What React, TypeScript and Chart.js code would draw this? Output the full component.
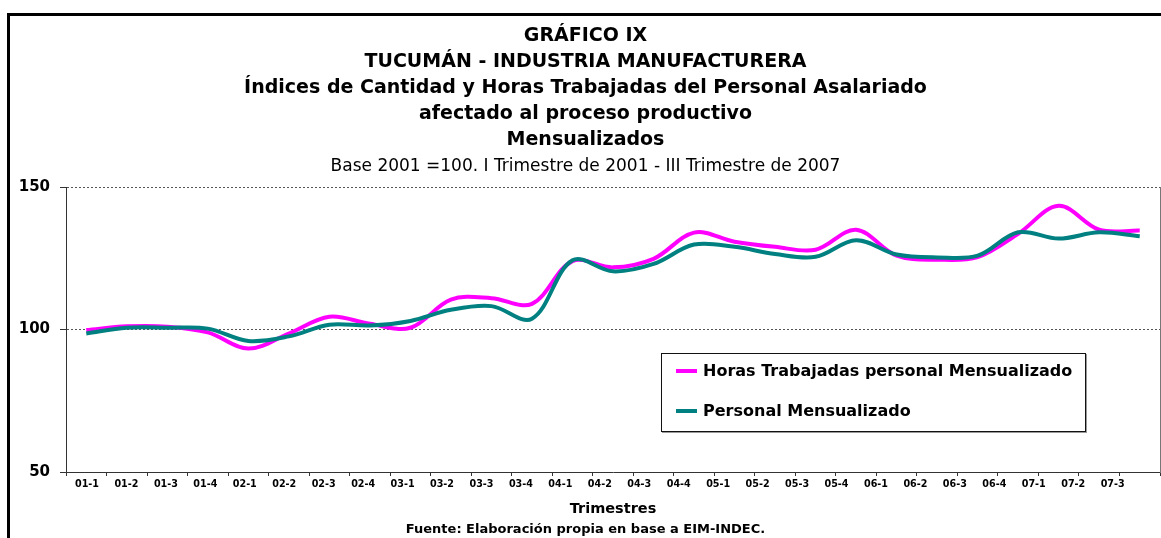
import React, { useEffect, useRef } from "react";
import { Chart, registerables } from "chart.js";

Chart.register(...registerables);

const FONT = "'DejaVu Sans', 'Noto Sans', sans-serif";

const quarterLabels = [
  "01-1", "01-2", "01-3", "01-4",
  "02-1", "02-2", "02-3", "02-4",
  "03-1", "03-2", "03-3", "03-4",
  "04-1", "04-2", "04-3", "04-4",
  "05-1", "05-2", "05-3", "05-4",
  "06-1", "06-2", "06-3", "06-4",
  "07-1", "07-2", "07-3",
];

const horasTrabajadas = [
  99.8, 101.1, 101.0, 99.0,
  93.3, 98.6, 104.5, 102.0,
  100.6, 110.5, 111.0, 109.0,
  124.0, 121.8, 124.8, 134.0,
  130.8, 129.0, 128.0, 135.0,
  125.9, 124.5, 125.4, 133.6,
  143.4, 135.0, 134.7,
];

const personalMensualizado = [
  98.6, 100.6, 100.6, 100.3,
  96.0, 97.6, 101.7, 101.4,
  103.0, 106.9, 108.2, 103.8,
  124.3, 120.4, 123.0, 129.8,
  129.0, 126.5, 125.5, 131.3,
  126.3, 125.3, 125.9, 134.1,
  131.9, 134.1, 132.7,
];

const seriesNames = ["Horas Trabajadas personal Mensualizado", "Personal Mensualizado"];
const seriesColors = ["#FF00FF", "#008080"];

const yMin = 50;
const yMax = 150;
const yStep = 50;

const titleLines = [
  "GRÁFICO IX",
  "TUCUMÁN - INDUSTRIA MANUFACTURERA",
  "Índices de Cantidad y Horas Trabajadas del Personal Asalariado",
  "afectado al proceso productivo",
  "Mensualizados",
];
const subtitleText = "Base 2001 =100. I Trimestre de 2001 - III Trimestre de 2007";
const xAxisTitle = "Trimestres";
const sourceNote = "Fuente: Elaboración propia en base a EIM-INDEC.";

export default function App() {
  const canvasRef = useRef<HTMLCanvasElement>(null);

  useEffect(() => {
    const canvas = canvasRef.current;
    if (!canvas) return;
    const chart = new Chart(canvas, {
      type: "line",
      data: {
        labels: quarterLabels,
        datasets: [
          {
            label: seriesNames[0],
            data: horasTrabajadas,
            borderColor: seriesColors[0],
            backgroundColor: seriesColors[0],
            borderWidth: 4,
            pointRadius: 0,
            tension: 0.35,
            fill: false,
            order: 1,
          },
          {
            label: seriesNames[1],
            data: personalMensualizado,
            borderColor: seriesColors[1],
            backgroundColor: seriesColors[1],
            borderWidth: 4,
            pointRadius: 0,
            tension: 0.35,
            fill: false,
            order: 0,
          },
        ],
      },
      options: {
        responsive: false,
        animation: false,
        events: [],
        layout: { padding: { left: 0, right: 0, top: 0, bottom: 17.8 } },
        plugins: {
          legend: { display: false },
          tooltip: { enabled: false },
          title: {
            display: true,
            text: titleLines,
            color: "#000",
            font: { family: FONT, size: 19, weight: "bold", lineHeight: 26 / 19 },
            padding: { top: 6.8, bottom: 0 },
          },
          subtitle: {
            display: true,
            text: subtitleText,
            color: "#000",
            font: { family: FONT, size: 17, weight: "normal", lineHeight: 1.2 },
            padding: { top: 4, bottom: 9.8 },
          },
        },
        scales: {
          x: {
            type: "category",
            position: "bottom",
            offset: true,
            weight: 0,
            grid: {
              display: true,
              drawOnChartArea: false,
              drawTicks: true,
              tickLength: 4,
              offset: true,
              color: "#333",
              tickColor: "#333",
              tickWidth: 1,
            },
            border: { display: true, color: "#333", width: 1 },
            ticks: { display: false },
            afterFit: (s: any) => {
              s.height = 4;
            },
          },
          x2: {
            type: "linear",
            position: "bottom",
            weight: 1,
            min: -0.532,
            max: 27.2,
            grid: { display: false, drawTicks: false, tickLength: 0 },
            border: { display: false },
            ticks: {
              autoSkip: false,
              maxRotation: 0,
              minRotation: 0,
              padding: 3,
              color: "#000",
              font: { family: FONT, size: 9.6, weight: "bold" },
              callback: (v: any) => quarterLabels[v as number] ?? "",
            },
            afterBuildTicks: (s: any) => {
              s.ticks = quarterLabels.map((_, i) => ({ value: i }));
            },
            title: {
              display: true,
              text: xAxisTitle,
              color: "#000",
              font: { family: FONT, size: 14.5, weight: "bold", lineHeight: 1.2 },
              padding: { top: 10.3, bottom: 2 },
            },
            afterFit: (s: any) => {
              s.height = 44.2;
            },
          },
          y: {
            type: "linear",
            position: "left",
            min: yMin,
            max: yMax,
            ticks: {
              stepSize: yStep,
              padding: 10,
              color: "#000",
              font: { family: FONT, size: 15, weight: "bold" },
            },
            grid: {
              color: "#555",
              lineWidth: 1,
              drawTicks: true,
              tickLength: 6,
              tickColor: "#333",
              tickBorderDash: [1, 0],
            },
            border: { display: true, color: "#333", width: 1, dash: [2, 2] },
            afterFit: (s: any) => {
              s.width = 56;
            },
          },
          y2: {
            type: "linear",
            position: "right",
            display: true,
            grid: { display: false, drawTicks: false },
            ticks: { display: false },
            border: { display: true, color: "#777", width: 1 },
            afterFit: (s: any) => {
              s.width = 1;
            },
          },
        },
      } as any,
    });
    return () => chart.destroy();
  }, []);

  return (
    <div
      style={{
        position: "absolute",
        left: 0,
        top: 0,
        width: 1161,
        height: 538,
        overflow: "hidden",
        background: "#fff",
      }}
    >
      <div
        style={{
          position: "absolute",
          left: 7,
          top: 13,
          width: 1154,
          height: 525,
          boxSizing: "border-box",
          borderTop: "3px solid #000",
          borderLeft: "3px solid #000",
        }}
      />
      <canvas
        ref={canvasRef}
        width={1151}
        height={522}
        style={{ position: "absolute", left: 10, top: 16, width: 1151, height: 522 }}
      />
      <div
        style={{
          position: "absolute",
          left: 661,
          top: 353,
          width: 425,
          height: 79,
          boxSizing: "border-box",
          border: "1px solid #111",
          boxShadow: "1px 1px 0 #999",
          background: "#fff",
        }}
      >
        {seriesNames.map((name, i) => (
          <div
            key={name}
            style={{
              position: "absolute",
              left: 14,
              top: 8 + i * 40,
              height: 18,
              display: "flex",
              alignItems: "center",
              whiteSpace: "nowrap",
            }}
          >
            <span
              style={{
                display: "inline-block",
                width: 21,
                height: 4,
                background: seriesColors[i],
                marginRight: 6,
              }}
            />
            <span
              style={{
                fontFamily: FONT,
                fontWeight: "bold",
                fontSize: 16,
                lineHeight: "18px",
                color: "#000",
              }}
            >
              {name}
            </span>
          </div>
        ))}
      </div>
      <div
        style={{
          position: "absolute",
          left: 10,
          top: 520,
          width: 1151,
          textAlign: "center",
          fontFamily: FONT,
          fontWeight: "bold",
          fontSize: 13,
          lineHeight: "17px",
          color: "#000",
          whiteSpace: "nowrap",
        }}
      >
        {sourceNote}
      </div>
    </div>
  );
}
